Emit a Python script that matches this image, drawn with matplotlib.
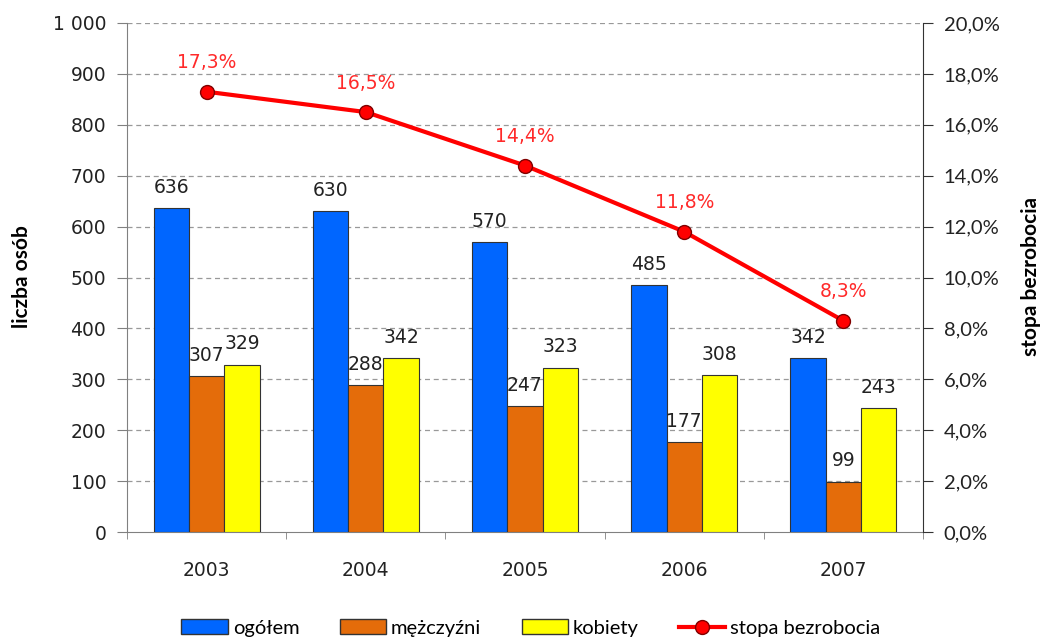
import matplotlib.pyplot as plt
import numpy as np
from matplotlib.ticker import FuncFormatter, FixedLocator
from matplotlib.lines import Line2D
from matplotlib.patches import Patch

# data
years = ["2003", "2004", "2005", "2006", "2007"]
ogolem = [636, 630, 570, 485, 342]
mezczyzni = [307, 288, 247, 177, 99]
kobiety = [329, 342, 323, 308, 243]
stopa = [17.3, 16.5, 14.4, 11.8, 8.3]

plt.rcParams['font.family'] = ['DejaVu Sans']
lato = ['Lato', 'DejaVu Sans']
fs = 13.5

fig = plt.figure(figsize=(10.48, 6.41), dpi=100)
ax = fig.add_axes([127/1048, 1-532/641, (923-127)/1048, (532-23)/641])

x = np.arange(len(years))
w = 0.222
edge = '#333333'
ax.bar(x - w, ogolem, w, color='#0066FF', edgecolor=edge, linewidth=0.8, zorder=3)
ax.bar(x, mezczyzni, w, color='#E46C0A', edgecolor=edge, linewidth=0.8, zorder=3)
ax.bar(x + w, kobiety, w, color='#FFFF00', edgecolor=edge, linewidth=0.8, zorder=3)

for i in range(len(years)):
    for off, vals in [(-w, ogolem), (0, mezczyzni), (w, kobiety)]:
        ax.annotate(str(vals[i]), (x[i] + off, vals[i]), xytext=(0, 8), textcoords='offset points',
                    ha='center', va='bottom', fontsize=fs, color='#222222')

ax.set_xlim(-0.5, 4.5)
ax.set_ylim(0, 1000)
ax.set_yticks(np.arange(0, 1001, 100))
ax.yaxis.set_major_formatter(FuncFormatter(lambda v, p: f"{int(v):,}".replace(",", " ")))
ax.set_xticks(x)
ax.set_xticklabels(years, fontsize=fs, color='#222222')
ax.xaxis.set_minor_locator(FixedLocator(np.arange(-0.5, 5, 1)))
ax.tick_params(axis='x', which='major', length=0, pad=21)
ax.tick_params(axis='x', which='minor', length=5, color='#808080')
ax.tick_params(axis='y', labelsize=fs, labelcolor='#222222', length=7, color='#808080', pad=8)
for yv in range(100, 1001, 100):
    ax.axhline(yv, color='#999999', linestyle=(0, (4, 3)), linewidth=0.9, zorder=1)
ax.spines['top'].set_visible(False)
ax.spines['right'].set_visible(False)
ax.spines['left'].set_color('#808080')
ax.spines['bottom'].set_color('#808080')

ax2 = ax.twinx()
ax2.set_position(ax.get_position())
ax2.plot(x, [s / 100 for s in stopa], color='#FF0000', linewidth=3, marker='o',
         markersize=10, markerfacecolor='#FF0000', markeredgecolor='#800000', markeredgewidth=1, zorder=5)
for i in range(len(years)):
    ax2.annotate(f"{stopa[i]:.1f}%".replace(".", ","), (x[i], stopa[i] / 100), xytext=(0, 14),
                 textcoords='offset points', ha='center', va='bottom', fontsize=fs, color='#FF2A2A')
ax2.set_ylim(0, 0.20)
ax2.set_yticks(np.arange(0, 0.201, 0.02))
ax2.yaxis.set_major_formatter(FuncFormatter(lambda v, p: f"{v*100:.1f}%".replace(".", ",")))
ax2.tick_params(axis='y', length=7, color='#333333', pad=8)
for lb in ax2.get_yticklabels():
    lb.set_family(lato)
    lb.set_fontsize(14.5)
    lb.set_color('#222222')
for s in ['top', 'left', 'bottom']:
    ax2.spines[s].set_visible(False)
ax2.spines['right'].set_color('#333333')

fig.text(22/1048, 1-277/641, 'liczba osób', rotation=90, ha='center', va='center',
         fontsize=15, fontweight='bold', family=lato)
fig.text(1031/1048, 1-277/641, 'stopa bezrobocia', rotation=90, ha='center', va='center',
         fontsize=15, fontweight='bold', family=lato)

handles = [Patch(facecolor='#0066FF', edgecolor=edge, label='ogółem'),
           Patch(facecolor='#E46C0A', edgecolor=edge, label='mężczyźni'),
           Patch(facecolor='#FFFF00', edgecolor=edge, label='kobiety'),
           Line2D([0], [0], color='#FF0000', linewidth=3, marker='o', markersize=10,
                  markerfacecolor='#FF0000', markeredgecolor='#800000', label='stopa bezrobocia')]
fig.legend(handles=handles, loc='center', bbox_to_anchor=(531/1048, 1-628/641), ncol=4, frameon=False,
           prop={'family': lato, 'size': 14.5}, handlelength=2.3, handletextpad=0.25, columnspacing=2.0)

fig.savefig("out.png", dpi=100)
